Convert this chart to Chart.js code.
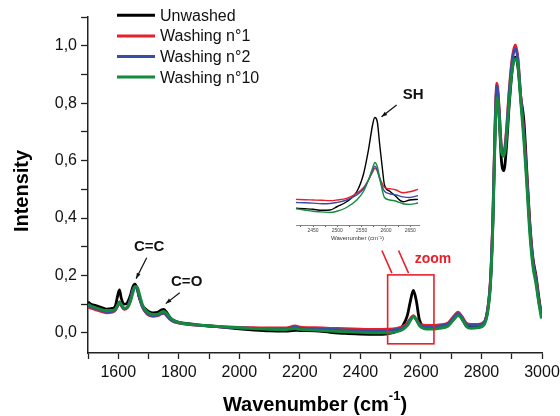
<!DOCTYPE html>
<html>
<head>
<meta charset="utf-8">
<script src="https://cdn.jsdelivr.net/npm/chart.js@4/dist/chart.umd.min.js"></script>
<style>
  html, body { margin: 0; padding: 0; background: #fff; }
  #wrap { position: relative; width: 560px; height: 416px; }
  #main { position: absolute; left: 0; top: 0; }
  #inset { position: absolute; left: 280px; top: 60px; }
</style>
</head>
<body>
<div id="wrap">
  <canvas id="main" width="560" height="416"></canvas>
  <canvas id="inset" width="160" height="182"></canvas>
</div>
<script>
'use strict';

// main spectrum, wavenumber in cm-1
const wavenumbers = [
  1500, 1510, 1520, 1540, 1560, 1580, 1590, 1598, 1604, 1610,
  1620, 1630, 1640, 1648, 1655, 1662, 1670, 1680, 1690, 1700,
  1715, 1730, 1742, 1750, 1758, 1770, 1785, 1800, 1830, 1860,
  1900, 1950, 2000, 2050, 2100, 2150, 2185, 2200, 2250, 2300,
  2350, 2400, 2450, 2490, 2520, 2540, 2555, 2565, 2575, 2585,
  2595, 2610, 2630, 2660, 2690, 2710, 2722, 2735, 2750, 2765,
  2790, 2810, 2822, 2830, 2838, 2845, 2851, 2858, 2866, 2874,
  2882, 2892, 2902, 2912, 2920, 2930, 2940, 2950, 2960, 2970,
  2980, 2990, 2998
];
const unwashed = [
  0.108, 0.100, 0.097, 0.090, 0.083, 0.085, 0.092, 0.130, 0.150, 0.120,
  0.100, 0.105, 0.130, 0.160, 0.170, 0.155, 0.120, 0.095, 0.083, 0.075,
  0.070, 0.072, 0.080, 0.082, 0.074, 0.055, 0.042, 0.037, 0.032, 0.028,
  0.024, 0.019, 0.014, 0.010, 0.007, 0.006, 0.009, 0.008, 0.007, 0.002,
  -0.002, -0.004, -0.005, -0.003, 0.006, 0.025, 0.060, 0.110, 0.148, 0.110,
  0.045, 0.022, 0.015, 0.018, 0.028, 0.050, 0.065, 0.050, 0.025, 0.020,
  0.022, 0.035, 0.090, 0.180, 0.400, 0.700, 0.855, 0.760, 0.600, 0.565,
  0.640, 0.800, 0.920, 0.960, 0.930, 0.820, 0.740, 0.560, 0.380, 0.260,
  0.200, 0.120, 0.060
];
const washing1 = [
  0.090, 0.086, 0.083, 0.076, 0.070, 0.072, 0.078, 0.095, 0.108, 0.095,
  0.082, 0.088, 0.115, 0.148, 0.162, 0.158, 0.125, 0.090, 0.072, 0.062,
  0.058, 0.060, 0.066, 0.068, 0.062, 0.048, 0.038, 0.034, 0.030, 0.027,
  0.024, 0.021, 0.019, 0.018, 0.017, 0.017, 0.024, 0.020, 0.018, 0.016,
  0.015, 0.013, 0.012, 0.013, 0.016, 0.022, 0.035, 0.050, 0.060, 0.048,
  0.032, 0.027, 0.026, 0.028, 0.035, 0.060, 0.072, 0.058, 0.034, 0.030,
  0.030, 0.040, 0.095, 0.190, 0.420, 0.730, 0.870, 0.790, 0.650, 0.630,
  0.700, 0.850, 0.960, 1.003, 0.960, 0.820, 0.700, 0.540, 0.370, 0.250,
  0.190, 0.110, 0.070
];
const washing2 = [
  0.095, 0.090, 0.087, 0.080, 0.074, 0.075, 0.080, 0.097, 0.108, 0.096,
  0.084, 0.090, 0.116, 0.148, 0.162, 0.157, 0.124, 0.090, 0.074, 0.064,
  0.060, 0.062, 0.068, 0.070, 0.064, 0.049, 0.039, 0.035, 0.030, 0.027,
  0.024, 0.020, 0.018, 0.016, 0.014, 0.014, 0.020, 0.017, 0.014, 0.012,
  0.010, 0.008, 0.007, 0.008, 0.012, 0.018, 0.030, 0.046, 0.058, 0.045,
  0.028, 0.022, 0.021, 0.024, 0.032, 0.056, 0.068, 0.054, 0.030, 0.026,
  0.027, 0.038, 0.092, 0.185, 0.410, 0.720, 0.860, 0.780, 0.640, 0.625,
  0.690, 0.840, 0.950, 0.990, 0.955, 0.815, 0.690, 0.530, 0.360, 0.245,
  0.185, 0.105, 0.065
];
const washing10 = [
  0.100, 0.094, 0.090, 0.083, 0.078, 0.078, 0.082, 0.095, 0.106, 0.100,
  0.086, 0.088, 0.108, 0.138, 0.158, 0.160, 0.135, 0.098, 0.080, 0.070,
  0.064, 0.065, 0.072, 0.075, 0.070, 0.054, 0.042, 0.037, 0.031, 0.028,
  0.025, 0.021, 0.018, 0.015, 0.012, 0.011, 0.015, 0.012, 0.010, 0.006,
  0.004, 0.002, 0.000, 0.000, 0.004, 0.012, 0.025, 0.042, 0.057, 0.045,
  0.024, 0.015, 0.013, 0.016, 0.024, 0.048, 0.060, 0.050, 0.022, 0.016,
  0.018, 0.030, 0.080, 0.170, 0.380, 0.680, 0.820, 0.760, 0.630, 0.615,
  0.670, 0.810, 0.920, 0.955, 0.935, 0.800, 0.670, 0.510, 0.340, 0.230,
  0.170, 0.100, 0.050
];

// inset: SH band, relative intensity
const insetWavenumbers = [2415, 2432, 2450, 2468, 2485, 2499, 2519, 2540, 2554, 2564, 2573,
  2577, 2582, 2587, 2593, 2597, 2608, 2621, 2635, 2649, 2666];
const insetUnwashed = [0.134, 0.130, 0.126, 0.118, 0.120, 0.146, 0.186, 0.266, 0.410, 0.600, 0.810,
  0.860, 0.830, 0.650, 0.440, 0.320, 0.270, 0.226, 0.186, 0.200, 0.205];
const insetWashing1 = [0.205, 0.202, 0.200, 0.198, 0.195, 0.200, 0.213, 0.253, 0.300, 0.360, 0.427,
  0.453, 0.435, 0.380, 0.325, 0.300, 0.290, 0.280, 0.258, 0.266, 0.285];
const insetWashing2 = [0.180, 0.178, 0.175, 0.170, 0.172, 0.180, 0.200, 0.240, 0.290, 0.360, 0.440,
  0.470, 0.440, 0.370, 0.300, 0.270, 0.250, 0.240, 0.225, 0.220, 0.235];
const insetWashing10 = [0.130, 0.120, 0.110, 0.105, 0.100, 0.110, 0.140, 0.200, 0.270, 0.360, 0.460,
  0.500, 0.470, 0.380, 0.270, 0.220, 0.200, 0.190, 0.170, 0.165, 0.176];

const seriesNames = ['Unwashed', 'Washing n°1', 'Washing n°2', 'Washing n°10'];
const seriesColors = ['#000000', '#e8202a', '#3a4da6', '#138a3c'];

const FONT = '"Liberation Sans", Arial, sans-serif';

function points(xs, ys) {
    return xs.map((x, i) => ({ x: x, y: ys[i] }));
}

function makeDatasets(xs, lists, width) {
    return lists.map((ys, i) => ({
        label: seriesNames[i],
        data: points(xs, ys),
        borderColor: seriesColors[i],
        borderWidth: width,
        pointRadius: 0,
        cubicInterpolationMode: 'monotone',
        order: lists.length - i
    }));
}

function arrow(ctx, x1, y1, x2, y2) {
    let a = Math.atan2(y2 - y1, x2 - x1);
    let h = 6;
    ctx.beginPath();
    ctx.moveTo(x1, y1);
    ctx.lineTo(x2, y2);
    ctx.stroke();
    ctx.beginPath();
    ctx.moveTo(x2, y2);
    ctx.lineTo(x2 - h * Math.cos(a - 0.35), y2 - h * Math.sin(a - 0.35));
    ctx.lineTo(x2 - h * Math.cos(a + 0.35), y2 - h * Math.sin(a + 0.35));
    ctx.closePath();
    ctx.fill();
}

const mainNotes = {
    id: 'mainNotes',
    afterDraw(chart) {
        const ctx = chart.ctx;
        const area = chart.chartArea;
        const x = chart.scales.x, y = chart.scales.y;
        const px = v => x.getPixelForValue(v);
        const py = v => y.getPixelForValue(v);
        ctx.save();

        // legend
        ctx.font = '16px ' + FONT;
        ctx.textAlign = 'left';
        ctx.textBaseline = 'middle';
        seriesNames.forEach((name, i) => {
            let ly = area.top - 1.7 + i * 20.6;
            ctx.strokeStyle = seriesColors[i];
            ctx.lineWidth = 3;
            ctx.beginPath();
            ctx.moveTo(area.left + 29, ly);
            ctx.lineTo(area.left + 67, ly);
            ctx.stroke();
            ctx.fillStyle = '#111';
            ctx.fillText(name, area.left + 72, ly + 1);
        });

        // band labels
        ctx.fillStyle = '#111';
        ctx.strokeStyle = '#111';
        ctx.lineWidth = 1.2;
        ctx.font = 'bold 15px ' + FONT;
        ctx.textAlign = 'center';
        ctx.fillText('C=C', px(1702), py(0.299));
        ctx.fillText('C=O', px(1826), py(0.176));
        arrow(ctx, px(1694), py(0.262), px(1659), py(0.189));
        arrow(ctx, px(1803), py(0.140), px(1757), py(0.102));

        // zoom box
        ctx.strokeStyle = '#e8202a';
        ctx.fillStyle = '#e8202a';
        ctx.lineWidth = 1.6;
        ctx.strokeRect(px(2490), py(0.202), px(2643) - px(2490), py(-0.038) - py(0.202));
        ctx.beginPath();
        ctx.moveTo(px(2471), py(0.287));
        ctx.lineTo(px(2504), py(0.208));
        ctx.moveTo(px(2526), py(0.287));
        ctx.lineTo(px(2559), py(0.208));
        ctx.stroke();
        ctx.font = 'bold 14px ' + FONT;
        ctx.fillText('zoom', px(2640), py(0.258));

        // axis titles
        ctx.fillStyle = '#000';
        let main = 'Wavenumber (cm';
        ctx.font = 'bold 20px ' + FONT;
        let w1 = ctx.measureText(main).width;
        ctx.font = 'bold 13px ' + FONT;
        let w2 = ctx.measureText('-1').width;
        ctx.font = 'bold 20px ' + FONT;
        let w3 = ctx.measureText(')').width;
        let cx = (area.left + area.right) / 2;
        let sx = cx - (w1 + w2 + w3) / 2;
        let ty = 405;
        ctx.textAlign = 'left';
        ctx.fillText(main, sx, ty);
        ctx.fillText(')', sx + w1 + w2, ty);
        ctx.font = 'bold 13px ' + FONT;
        ctx.fillText('-1', sx + w1, ty - 9);

        ctx.font = 'bold 20px ' + FONT;
        ctx.textAlign = 'center';
        ctx.translate(22, 191);
        ctx.rotate(-Math.PI / 2);
        ctx.fillText('Intensity', 0, 0);
        ctx.restore();
    }
};

const insetNotes = {
    id: 'insetNotes',
    afterDraw(chart) {
        const ctx = chart.ctx;
        const x = chart.scales.x, y = chart.scales.y;
        ctx.save();
        ctx.fillStyle = '#111';
        ctx.strokeStyle = '#111';
        ctx.lineWidth = 1.2;
        ctx.font = 'bold 15px ' + FONT;
        ctx.textAlign = 'center';
        ctx.textBaseline = 'middle';
        ctx.fillText('SH', x.getPixelForValue(2656), y.getPixelForValue(1.04));
        arrow(ctx, x.getPixelForValue(2622), y.getPixelForValue(0.96),
            x.getPixelForValue(2591), y.getPixelForValue(0.866));
        ctx.restore();
    }
};

document.addEventListener('DOMContentLoaded', function() {
    init();
});

function init() {
    Chart.defaults.font.family = FONT;
    Chart.defaults.color = '#111';

    new Chart(document.getElementById('main'), {
        type: 'line',
        data: {
            datasets: makeDatasets(wavenumbers, [unwashed, washing1, washing2, washing10], 2.8)
        },
        options: {
            responsive: false,
            animation: false,
            layout: { padding: { top: 17, right: 18 } },
            plugins: { legend: { display: false }, tooltip: { enabled: false } },
            scales: {
                x: {
                    type: 'linear',
                    min: 1500,
                    max: 3000,
                    ticks: {
                        stepSize: 100,
                        autoSkip: false,
                        maxRotation: 0,
                        padding: 4,
                        font: { size: 16 },
                        callback: v => (v % 200 === 0 ? String(v) : '')
                    },
                    grid: { drawOnChartArea: false, tickLength: 6, tickColor: '#222', tickWidth: 1.3 },
                    border: { color: '#222', width: 1.5 },
                    afterFit: s => {
                        s.height = 63;
                        s.paddingLeft = 0;
                        s.paddingRight = 0;
                    }
                },
                y: {
                    min: -0.07,
                    max: 1.1,
                    ticks: {
                        stepSize: 0.1,
                        includeBounds: false,
                        padding: 4,
                        font: { size: 16 },
                        callback: v => {
                            let t = Math.round(v * 10);
                            return t % 2 === 0 ? (t / 10).toFixed(1).replace('.', ',') : '';
                        }
                    },
                    grid: { drawOnChartArea: false, tickLength: 7, tickColor: '#222', tickWidth: 1.3 },
                    border: { color: '#222', width: 1.5 },
                    afterFit: s => { s.width = 88; }
                }
            }
        },
        plugins: [mainNotes]
    });

    new Chart(document.getElementById('inset'), {
        type: 'line',
        data: {
            datasets: makeDatasets(insetWavenumbers,
                [insetUnwashed, insetWashing1, insetWashing2, insetWashing10], 1.4)
        },
        options: {
            responsive: false,
            animation: false,
            layout: { padding: { left: 16, right: 21, top: 40 } },
            plugins: { legend: { display: false }, tooltip: { enabled: false } },
            scales: {
                x: {
                    type: 'linear',
                    min: 2415,
                    max: 2668,
                    ticks: {
                        stepSize: 25,
                        includeBounds: false,
                        autoSkip: false,
                        maxRotation: 0,
                        padding: 1,
                        color: '#444',
                        font: { size: 5 },
                        callback: v => (v % 50 === 0 ? String(v) : '')
                    },
                    grid: { drawOnChartArea: false, tickLength: 2, tickColor: '#666' },
                    border: { color: '#666', width: 0.8 },
                    title: {
                        display: true,
                        text: 'Wavenumber (cm⁻¹)',
                        color: '#333',
                        font: { size: 6 },
                        padding: { top: 1, bottom: 0 }
                    },
                    afterFit: s => {
                        s.height = 17;
                        s.paddingLeft = 0;
                        s.paddingRight = 0;
                    }
                },
                y: { display: false, min: 0, max: 1 }
            }
        },
        plugins: [insetNotes]
    });
}
</script>
</body>
</html>
